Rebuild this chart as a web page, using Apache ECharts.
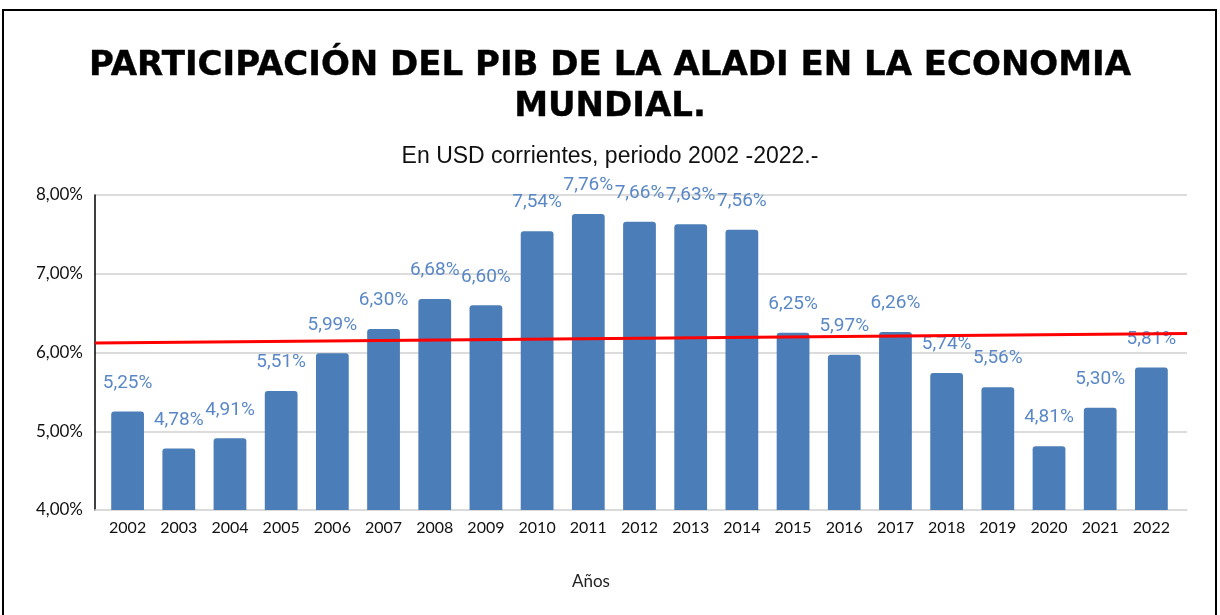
<!DOCTYPE html>
<html>
<head>
<meta charset="utf-8">
<script src="https://cdn.jsdelivr.net/npm/echarts@6/dist/echarts.min.js"></script>
<style>
  html, body { margin: 0; padding: 0; background: #fff; }
  #chart { width: 1220px; height: 615px; }
</style>
</head>
<body>
<div id="chart"></div>
<script>
// años y participación (%)
const years = ['2002', '2003', '2004', '2005', '2006', '2007', '2008', '2009', '2010', '2011', '2012',
  '2013', '2014', '2015', '2016', '2017', '2018', '2019', '2020', '2021', '2022'];
const participacion = [5.25, 4.78, 4.91, 5.51, 5.99, 6.30, 6.68, 6.60, 7.54, 7.76, 7.66,
  7.63, 7.56, 6.25, 5.97, 6.26, 5.74, 5.56, 4.81, 5.30, 5.81];
// linea de tendencia (inicio y fin)
const tendencia = [[0, 6.12], [1, 6.24]];
const yTicks = [4, 5, 6, 7, 8];

const fmt = v => v.toFixed(2).replace('.', ',') + '%';

const chart = echarts.init(document.getElementById('chart'));

chart.setOption({
  animation: false,
  backgroundColor: '#fff',
  title: [
    {
      text: 'PARTICIPACIÓN DEL PIB DE LA ALADI EN LA ECONOMIA\nMUNDIAL.',
      left: 'center',
      top: 41,
      textStyle: {
        fontFamily: 'DejaVu Sans',
        fontWeight: 'bold',
        fontSize: 34,
        lineHeight: 41,
        color: '#000',
        textBorderColor: '#000',
        textBorderWidth: 0.4
      }
    },
    {
      text: 'En USD corrientes, periodo 2002 -2022.-',
      left: 'center',
      top: 140,
      textStyle: {
        fontFamily: 'Liberation Sans',
        fontWeight: 'normal',
        fontSize: 23,
        color: '#111'
      }
    },
    {
      text: 'Años',
      left: 567,
      top: 568,
      textStyle: {
        fontFamily: 'Lato',
        fontWeight: 'normal',
        fontSize: 17,
        color: '#222'
      }
    }
  ],
  graphic: [
    {
      type: 'rect',
      shape: { x: 3, y: 10, width: 1213, height: 640 },
      style: { fill: 'none', stroke: '#000', lineWidth: 2 },
      silent: true
    }
  ],
  grid: [
    { left: 102, right: 43, top: 195, bottom: 105 },   // barras
    { left: 95, right: 33, top: 195, bottom: 105 }     // ejes, rejilla y tendencia
  ],
  xAxis: [
    {
      type: 'category',
      gridIndex: 0,
      data: years,
      axisLine: { show: false },
      axisTick: { show: false },
      axisLabel: { color: '#111', fontFamily: 'Lato', fontSize: 16, margin: 10 }
    },
    {
      type: 'value',
      gridIndex: 1,
      min: 0,
      max: 1,
      axisLine: { show: true, lineStyle: { color: '#d9d9d9', width: 1.5 } },
      axisTick: { show: false },
      axisLabel: { show: false },
      splitLine: { show: false }
    }
  ],
  yAxis: [
    {
      type: 'value',
      gridIndex: 0,
      min: yTicks[0],
      max: yTicks[yTicks.length - 1],
      interval: 1,
      show: false
    },
    {
      type: 'value',
      gridIndex: 1,
      min: yTicks[0],
      max: yTicks[yTicks.length - 1],
      interval: 1,
      axisLine: { show: true, lineStyle: { color: '#000', width: 1.5 } },
      axisTick: { show: false },
      splitLine: { lineStyle: { color: '#d0d0d0', width: 1.5 } },
      axisLabel: {
        color: '#111',
        fontFamily: 'Lato',
        fontSize: 17,
        margin: 12,
        formatter: v => fmt(v)
      }
    }
  ],
  series: [
    {
      type: 'bar',
      xAxisIndex: 0,
      yAxisIndex: 0,
      data: participacion,
      barCategoryGap: '36%',
      itemStyle: { color: '#4b7db8', borderRadius: [3, 3, 0, 0] },
      label: {
        show: true,
        position: 'top',
        distance: 19,
        color: '#5a88c6',
        fontFamily: 'Roboto',
        fontSize: 19,
        formatter: p => fmt(p.value)
      },
      z: 3
    },
    {
      type: 'line',
      xAxisIndex: 1,
      yAxisIndex: 1,
      data: tendencia,
      symbol: 'none',
      lineStyle: { color: '#ff0000', width: 3 },
      z: 5
    }
  ]
});
</script>
</body>
</html>
